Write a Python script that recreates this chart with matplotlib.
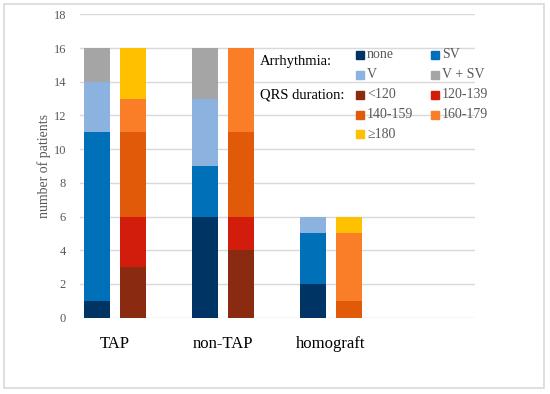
import matplotlib.pyplot as plt
import matplotlib.patches as mpatches
import numpy as np

plt.rcParams['font.family'] = ['Liberation Serif', 'DejaVu Serif']

groups = ['TAP', 'non-TAP', 'homograft']

arr_labels = ['none', 'SV', 'V', 'V + SV']
arr_colors = ['#003465', '#0070b8', '#8cb2e0', '#a5a5a5']
arr_values = [
    [1, 6, 2],    # none
    [10, 3, 3],   # SV
    [3, 4, 1],    # V
    [2, 3, 0],    # V + SV
]

qrs_labels = ['<120', '120-139', '140-159', '160-179', '\u2265180']
qrs_colors = ['#8a2a10', '#d21c0c', '#e05a0a', '#fa7d28', '#ffc000']
qrs_values = [
    [3, 4, 0],    # <120
    [3, 2, 0],    # 120-139
    [5, 5, 1],    # 140-159
    [2, 5, 4],    # 160-179
    [3, 0, 1],    # >=180
]

fig = plt.figure(figsize=(5.5, 3.94), dpi=100)
fig.patches.append(mpatches.Rectangle((4 / 550, 1 - 388 / 394), 540 / 550, 384 / 394,
                                      transform=fig.transFigure, fill=False,
                                      edgecolor='#d9d9d9', linewidth=1.2))
ax = fig.add_axes([0.1455, 0.1937, 0.718, 0.77])

x = np.arange(len(groups))
w = 0.247
off = 0.167

bottom = np.zeros(len(groups))
for vals, col in zip(arr_values, arr_colors):
    ax.bar(x - off, vals, w, bottom=bottom, color=col, zorder=3)
    bottom += np.array(vals)

bottom = np.zeros(len(groups))
for vals, col in zip(qrs_values, qrs_colors):
    ax.bar(x + off, vals, w, bottom=bottom, color=col, zorder=3)
    bottom += np.array(vals)

ax.set_xlim(-0.324, 3.333)
ax.set_ylim(0, 18)
ax.set_yticks(range(0, 19, 2))
ax.yaxis.grid(True, color='#d9d9d9', linewidth=1, zorder=0)
ax.set_xticks(x)
ax.set_xticklabels(groups, fontsize=12, color='black')
ax.tick_params(axis='x', length=0, pad=13)
ax.tick_params(axis='y', length=0, labelsize=9, labelcolor='#595959', pad=10)
for s in ax.spines.values():
    s.set_visible(False)
ax.set_ylabel('number of patients', fontsize=10, color='#595959', labelpad=2)

# legend drawn as text and squares in figure pixels
def fx(px):
    return px / 550

def fy(py):
    return 1 - py / 394

fig.text(fx(260), fy(61), 'Arrhythmia:', fontsize=10.5, va='center', ha='left')
fig.text(fx(260), fy(95), 'QRS duration:', fontsize=10.5, va='center', ha='left')

def entry(px, py, label, color):
    fig.patches.append(mpatches.Rectangle((fx(px), fy(py + 4)), 8 / 550, 8 / 394,
                                          transform=fig.transFigure, color=color))
    fig.text(fx(px + 11), fy(py), label, fontsize=10, color='#595959',
             va='center', ha='left')

cols = [356, 431]
for i, (lab, col) in enumerate(zip(arr_labels, arr_colors)):
    entry(cols[i % 2], 55 + 20 * (i // 2), lab, col)
for i, (lab, col) in enumerate(zip(qrs_labels, qrs_colors)):
    entry(cols[i % 2], 95 + 19.7 * (i // 2), lab, col)

plt.savefig('out.png', dpi=100)
